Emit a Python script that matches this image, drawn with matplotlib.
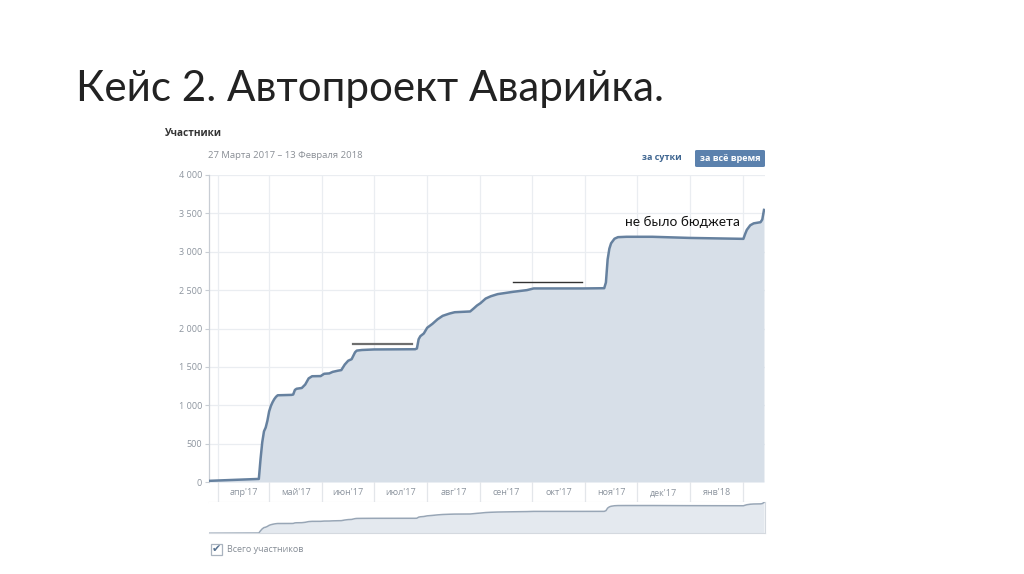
import matplotlib
matplotlib.use("Agg")
import matplotlib.pyplot as plt
import matplotlib.dates as mdates
from matplotlib.patches import Rectangle, FancyBboxPatch
import pandas as pd

# ---------------- data ----------------
dates = ["2017-03-27", "2017-04-25", "2017-04-26", "2017-04-27", "2017-04-28", "2017-04-29",
         "2017-04-30", "2017-05-01", "2017-05-02", "2017-05-03", "2017-05-04", "2017-05-05",
         "2017-05-06", "2017-05-14", "2017-05-15", "2017-05-16", "2017-05-17", "2017-05-20",
         "2017-05-22", "2017-05-24", "2017-05-26", "2017-05-31", "2017-06-02", "2017-06-05",
         "2017-06-07", "2017-06-10", "2017-06-12", "2017-06-14", "2017-06-16", "2017-06-18",
         "2017-06-20", "2017-06-21", "2017-06-24", "2017-07-01", "2017-07-25", "2017-07-26",
         "2017-07-27", "2017-07-28", "2017-07-30", "2017-08-01", "2017-08-04", "2017-08-07",
         "2017-08-10", "2017-08-14", "2017-08-17", "2017-08-26", "2017-08-28", "2017-08-30",
         "2017-09-01", "2017-09-04", "2017-09-07", "2017-09-11", "2017-09-20", "2017-09-28",
         "2017-10-02", "2017-10-31", "2017-11-12", "2017-11-13", "2017-11-14", "2017-11-15",
         "2017-11-16", "2017-11-18", "2017-11-20", "2017-11-25", "2017-12-10", "2018-01-01",
         "2018-02-01", "2018-02-02", "2018-02-03", "2018-02-05", "2018-02-07", "2018-02-11",
         "2018-02-12", "2018-02-13"]
members = [15, 40, 300, 520, 660, 710,
           800, 920, 990, 1040, 1080, 1110,
           1130, 1135, 1140, 1200, 1215, 1225,
           1270, 1350, 1378, 1380, 1410, 1415,
           1435, 1450, 1458, 1530, 1580, 1600,
           1690, 1712, 1720, 1727, 1730, 1740,
           1860, 1900, 1935, 2010, 2060, 2120,
           2165, 2195, 2212, 2222, 2260, 2300,
           2330, 2390, 2420, 2448, 2478, 2500,
           2522, 2522, 2525, 2600, 2900, 3040,
           3110, 3170, 3190, 3195, 3195, 3180,
           3168, 3230, 3285, 3345, 3370, 3385,
           3420, 3545]

month_starts = ["2017-04-01", "2017-05-01", "2017-06-01", "2017-07-01", "2017-08-01",
                "2017-09-01", "2017-10-01", "2017-11-01", "2017-12-01", "2018-01-01",
                "2018-02-01"]
month_labels = ["апр'17", "май'17", "июн'17", "июл'17", "авг'17", "сен'17",
                "окт'17", "ноя'17", "дек'17", "янв'18"]
y_ticks = [0, 500, 1000, 1500, 2000, 2500, 3000, 3500, 4000]

# hand-drawn annotation marks
mark1_dates = ["2017-06-19", "2017-07-23"]
mark1_value = 1794
mark2_dates = ["2017-09-20", "2017-10-30"]
mark2_value = 2602
note_text = "не было бюджета"
note_date = "2017-11-24"
note_value = 3391

title = "Кейс 2. Автопроект Аварийка."
header = "Участники"
period = "27 Марта 2017 – 13 Февраля 2018"
btn_day = "за сутки"
btn_all = "за всё время"
legend_label = "Всего участников"

# ---------------- figure ----------------
W, H = 1024, 574
fig = plt.figure(figsize=(W / 100, H / 100), dpi=100)
fig.patch.set_facecolor("white")

def fx(px):
    return px / W

def fy(py):
    return 1 - py / H

x = pd.to_datetime(dates)
ms = pd.to_datetime(month_starts)
x0 = pd.Timestamp("2017-03-27")
x1 = pd.Timestamp("2018-02-13 14:00")

LINE = "#66819f"
FILL = "#d7dfe8"
GRID = "#eaedf1"
TXT = "#8c949e"
UI_FONT = "Open Sans"

# main axes
ax = fig.add_axes([fx(209), fy(482), fx(765 - 209), (482 - 175) / H])
ax.fill_between(x, members, 0, color=FILL, lw=0, zorder=2)
ax.plot(x, members, color=LINE, lw=1.8, zorder=3, solid_joinstyle="round")
ax.set_xlim(x0, x1)
ax.set_ylim(0, 4000)
ax.set_yticks(y_ticks)
ax.set_yticklabels([f"{v:,}".replace(",", " ") for v in y_ticks])
ax.set_xticks(ms)
ax.set_xticklabels([])
ax.grid(True, color=GRID, lw=0.9, zorder=0)
ax.set_axisbelow(True)
for s in ["top", "right", "bottom"]:
    ax.spines[s].set_visible(False)
ax.spines["left"].set_color("#c8cdd4")
ax.spines["left"].set_linewidth(0.9)
ax.tick_params(axis="y", length=3, color="#c8cdd4", labelsize=6.5, labelcolor=TXT, pad=2)
ax.tick_params(axis="x", length=0)
for lbl in ax.get_yticklabels():
    lbl.set_fontfamily(UI_FONT)

# annotation marks
ax.plot(pd.to_datetime(mark1_dates), [mark1_value] * 2, color="#6e6e6e", lw=1.6, zorder=4)
ax.plot(pd.to_datetime(mark2_dates), [mark2_value] * 2, color="#333333", lw=1.0, zorder=4)
ax.text(pd.Timestamp(note_date), note_value, note_text, fontsize=9.8, family="Lato",
        color="#111111", va="center", ha="left", zorder=5)

# label strip
axl = fig.add_axes([fx(209), fy(502), fx(765 - 209), (502 - 482) / H])
axl.set_xlim(x0, x1)
axl.set_ylim(0, 1)
for d in ms:
    axl.axvline(d, color="#e3e6ea", lw=0.9)
centers = [ms[i] + (ms[i + 1] - ms[i]) / 2 for i in range(len(ms) - 1)]
axl.set_xticks(centers)
axl.set_xticklabels(month_labels, fontsize=6.5, color=TXT, family=UI_FONT)
axl.tick_params(axis="x", length=0, pad=-10)
axl.set_yticks([])
for s in axl.spines.values():
    s.set_visible(False)
axl.spines["bottom"].set_visible(True)
axl.spines["bottom"].set_color("#dfe3e8")
axl.spines["bottom"].set_linewidth(0.8)
axl.patch.set_alpha(0)

# navigator
axn = fig.add_axes([fx(209), fy(533), fx(765 - 209), (533 - 502) / H])
axn.fill_between(x, members, 0, color="#e4e9ef", lw=0)
axn.plot(x, members, color="#98a6b6", lw=1.1)
axn.set_xlim(x0, x1)
axn.set_ylim(40, 3600)
axn.set_xticks([])
axn.set_yticks([])
for s in ["top", "left"]:
    axn.spines[s].set_visible(False)
for s in ["bottom", "right"]:
    axn.spines[s].set_color("#d4d9df")
    axn.spines[s].set_linewidth(0.8)

# title
fig.text(fx(76), fy(89), title, fontsize=30.3, family="Lato", weight="normal",
         color="#222222", va="center", ha="left")

# header
fig.text(fx(165), fy(133), header, fontsize=7.2, family=UI_FONT, weight="bold",
         color="#333333", va="center", ha="left")
fig.text(fx(208), fy(156), period, fontsize=6.8, family=UI_FONT,
         color="#8a8f96", va="center", ha="left")
fig.text(fx(662), fy(158), btn_day, fontsize=6.5, family=UI_FONT, weight="bold",
         color="#3e6590", va="center", ha="center")
fig.patches.append(FancyBboxPatch((fx(695), fy(167)), fx(70), 17 / H,
                                  boxstyle="round,pad=0,rounding_size=0.002",
                                  transform=fig.transFigure, facecolor="#5b81ad",
                                  edgecolor="none"))
fig.text(fx(730), fy(158.5), btn_all, fontsize=6.5, family=UI_FONT, weight="bold",
         color="white", va="center", ha="center")

# legend checkbox
fig.patches.append(Rectangle((fx(211), fy(555)), fx(11), 11 / H, transform=fig.transFigure,
                             facecolor="white", edgecolor="#a9b3bf", lw=0.9))
fig.text(fx(216.5), fy(549), "✔", fontsize=8, color="#56718f", va="center", ha="center",
         family="DejaVu Sans")
fig.text(fx(227), fy(549), legend_label, fontsize=6.5, family=UI_FONT,
         color="#858c95", va="center", ha="left")

fig.savefig("out.png", dpi=100, facecolor="white")
